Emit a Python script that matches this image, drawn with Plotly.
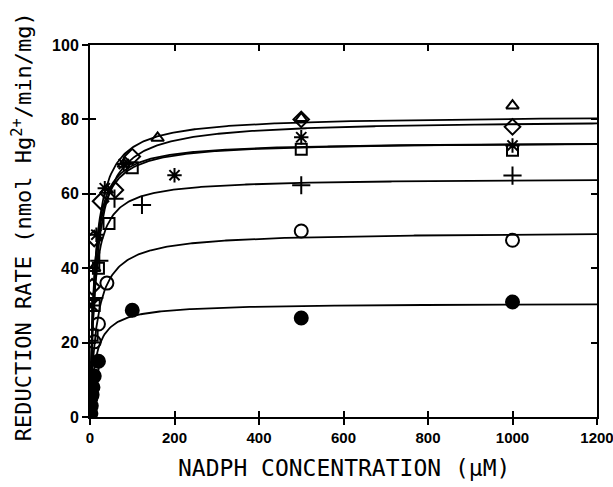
import numpy as np
import plotly.graph_objects as go

# ---- data ----
x_ticks = [0, 200, 400, 600, 800, 1000, 1200]
y_ticks = [0, 20, 40, 60, 80, 100]

tri_x = [10, 40, 80, 160, 500, 1000]
tri_y = [40, 61, 68, 75, 80.3, 83.7]
dia_x = [5, 10, 25, 60, 100, 500, 1000]
dia_y = [35, 48, 58, 61, 70, 80, 78]
ast_x = [5, 15, 35, 80, 200, 500, 1000]
ast_y = [30, 49, 61.5, 68, 65, 75.2, 73]
sq_x = [5, 10, 20, 45, 100, 500, 1000]
sq_y = [22, 30, 40, 52, 67, 72, 71.7]
plus_x = [5, 10, 22, 58, 123, 500, 1000]
plus_y = [20, 32, 42, 58.7, 57, 62.3, 64.9]
oc_x = [2, 5, 10, 20, 40, 500, 1000]
oc_y = [5, 13, 20.2, 25, 36, 50, 47.5]
fc_x = [2, 3, 5, 7, 10, 20, 100, 500, 1000]
fc_y = [1, 3, 6, 8, 11, 15, 28.7, 26.6, 30.9]

# fitted Michaelis-Menten parameters (Vmax, Km) per series
fits = {
    "tri": (81.1, 12.0),
    "dia": (79.9, 15.0),
    "ast": (74.0, 9.5),
    "sq": (74.0, 10.5),
    "plus": (64.2, 10.0),
    "oc": (49.8, 16.0),
    "fc": (30.6, 13.0),
}

series = [
    ("tri", tri_x, tri_y, "triangle-up-open", 11),
    ("dia", dia_x, dia_y, "diamond-open", 12),
    ("ast", ast_x, ast_y, "asterisk-open", 12),
    ("sq", sq_x, sq_y, "square-open", 11),
    ("plus", plus_x, plus_y, "cross-thin-open", 13),
    ("oc", oc_x, oc_y, "circle-open", 13),
    ("fc", fc_x, fc_y, "circle", 13),
]

fig = go.Figure()
xs = np.concatenate([np.linspace(0.5, 20, 60), np.linspace(20, 1200, 400)])
for name, sx, sy, sym, size in series:
    vm, km = fits[name]
    fig.add_trace(go.Scatter(x=xs, y=vm * xs / (km + xs), mode="lines",
                             line=dict(color="black", width=1.8),
                             showlegend=False, hoverinfo="skip"))
for name, sx, sy, sym, size in series:
    fig.add_trace(go.Scatter(x=sx, y=sy, mode="markers",
                             marker=dict(symbol=sym, size=size, color="black",
                                         line=dict(color="black", width=2)),
                             showlegend=False))

# overlay axes for inward ticks
fig.add_trace(go.Scatter(x=[0], y=[0], xaxis="x2", yaxis="y2", mode="markers",
                         marker=dict(size=1, opacity=0), showlegend=False, hoverinfo="skip"))

fam = "Liberation Sans, Arial, sans-serif"
xtickfont = dict(family=fam, size=15, color="black", weight="bold")
ytickfont = dict(family=fam, size=16, color="black", weight="bold")

fig.update_layout(
    width=613, height=487,
    margin=dict(l=90, r=16, t=45, b=70),
    paper_bgcolor="white", plot_bgcolor="white",
    xaxis=dict(range=[0, 1200], tickvals=x_ticks, ticktext=[str(v) for v in x_ticks],
               ticks="outside", ticklen=6, tickwidth=1.5, tickcolor="black",
               showline=True, linecolor="black", linewidth=2, mirror=True,
               showgrid=False, zeroline=False, tickfont=xtickfont,
               ticklabeloverflow="allow", automargin=False),
    yaxis=dict(range=[0, 100], tickvals=y_ticks, ticktext=[str(v) for v in y_ticks],
               ticks="outside", ticklen=6, tickwidth=1.5, tickcolor="black",
               showline=True, linecolor="black", linewidth=2, mirror=True,
               showgrid=False, zeroline=False, tickfont=ytickfont,
               ticklabeloverflow="allow", automargin=False),
    xaxis2=dict(range=[0, 1200], overlaying="x", tickvals=x_ticks,
                ticks="inside", ticklen=6, tickwidth=1.5, tickcolor="black",
                mirror="ticks", showline=False, showticklabels=False,
                showgrid=False, zeroline=False, automargin=False),
    yaxis2=dict(range=[0, 100], overlaying="y", tickvals=y_ticks,
                ticks="inside", ticklen=6, tickwidth=1.5, tickcolor="black",
                mirror="ticks", showline=False, showticklabels=False,
                showgrid=False, zeroline=False, automargin=False),
    annotations=[
        dict(text="NADPH CONCENTRATION (μM)", xref="paper", yref="paper",
             x=0.5, y=-0.137, xanchor="center", yanchor="middle", showarrow=False,
             font=dict(family="DejaVu Sans Mono", size=23, color="black")),
        dict(text="REDUCTION RATE (nmol Hg<sup>2+</sup>/min/mg)", xref="paper", yref="paper",
             x=-0.134, y=0.51, xanchor="center", yanchor="middle", showarrow=False,
             textangle=-90,
             font=dict(family="DejaVu Sans Mono", size=22, color="black")),
    ],
)

fig.write_html("out.html")
